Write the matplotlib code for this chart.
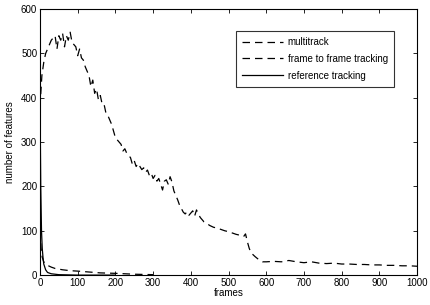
import numpy as np
import matplotlib
matplotlib.use('Agg')
import matplotlib.pyplot as plt

plt.rcParams['font.family'] = ['Liberation Sans', 'DejaVu Sans']
plt.rcParams['font.size'] = 7

# multitrack (long dashed curve)
mt_x = [0, 5, 10, 15, 20, 25, 30, 35, 40, 45, 50, 55, 60, 65, 70, 75, 80, 85, 90, 95,
        100, 105, 110, 115, 120, 125, 130, 135, 140, 145, 150, 155, 160, 165, 170, 175,
        180, 185, 190, 195, 200, 205, 210, 215, 220, 225, 230, 235, 240, 245, 250, 255,
        260, 265, 270, 275, 280, 285, 290, 295, 300, 305, 310, 315, 320, 325, 330, 335,
        340, 345, 350, 355, 360, 365, 370, 375, 380, 385, 390, 395, 400, 405, 410, 415,
        420, 425, 430, 435, 440, 445, 450, 460, 470, 480, 490, 500, 510, 520, 530, 540,
        545, 550, 555, 560, 570, 580, 590, 600, 620, 640, 660, 680, 700, 720, 740, 760,
        780, 800, 820, 840, 860, 880, 900, 920, 940, 960, 980, 1000]
mt_y = [380, 450, 480, 500, 510, 520, 530, 535, 540, 510, 540, 530, 545, 515, 540, 530,
        548, 525, 520, 515, 495, 510, 490, 485, 470, 460, 450, 425, 440, 410, 420, 395,
        405, 385, 385, 365, 360, 350, 340, 325, 310, 305, 300, 295, 280, 285, 275, 270,
        265, 250, 258, 245, 252, 245, 238, 242, 232, 237, 225, 230, 218, 225, 212, 218,
        205, 192, 212, 215, 205, 222, 210, 190, 180, 170, 158, 150, 142, 138, 143, 135,
        140, 145, 133, 147, 138, 130, 125, 120, 118, 115, 112, 108, 106, 103, 100, 98,
        95, 92, 90, 87, 93, 75, 60, 50, 42, 35, 30, 30, 31, 30, 33, 30, 28, 30, 27, 26,
        27, 25, 25, 24, 24, 23, 23, 22, 22, 21, 21, 20]

# frame to frame tracking
ff_x = [0, 3, 6, 10, 15, 20, 25, 30, 40, 60, 80, 100, 130, 160, 200, 250, 300]
ff_y = [100, 60, 40, 30, 25, 22, 20, 18, 15, 12, 10, 9, 7, 5, 4, 2, 1]

# reference tracking
rt_x = [0, 2, 4, 6, 8, 10, 15, 20, 30, 50, 100, 200]
rt_y = [400, 200, 100, 60, 40, 25, 12, 6, 3, 1, 0, 0]

fig = plt.figure(figsize=(4.3, 3.05), dpi=100)
ax = fig.add_axes([0.093, 0.098, 0.877, 0.872])

ax.plot(mt_x, mt_y, color='k', linestyle=(0, (6, 4)), linewidth=0.9, label='multitrack')
ax.plot(ff_x, ff_y, color='k', linestyle=(0, (6, 4)), linewidth=0.9, label='frame to frame tracking')
ax.plot(rt_x, rt_y, color='k', linestyle='-', linewidth=0.9, label='reference tracking')

ax.set_xlim(0, 1000)
ax.set_ylim(0, 600)
ax.set_xticks(np.arange(0, 1001, 100))
ax.set_yticks(np.arange(0, 601, 100))
ax.tick_params(direction='in', top=True, right=True, length=3, width=0.6, pad=2)
for s in ax.spines.values():
    s.set_linewidth(0.8)
ax.set_xlabel('frames', labelpad=0)
ax.set_ylabel('number of features', labelpad=4)

leg = ax.legend(loc='upper left', bbox_to_anchor=(0.52, 0.917), frameon=True,
                fancybox=False, edgecolor='k', handlelength=4.2, borderpad=0.6,
                labelspacing=0.7, handletextpad=0.5, borderaxespad=0)
leg.get_frame().set_linewidth(0.8)

fig.savefig('out.png', dpi=100)
